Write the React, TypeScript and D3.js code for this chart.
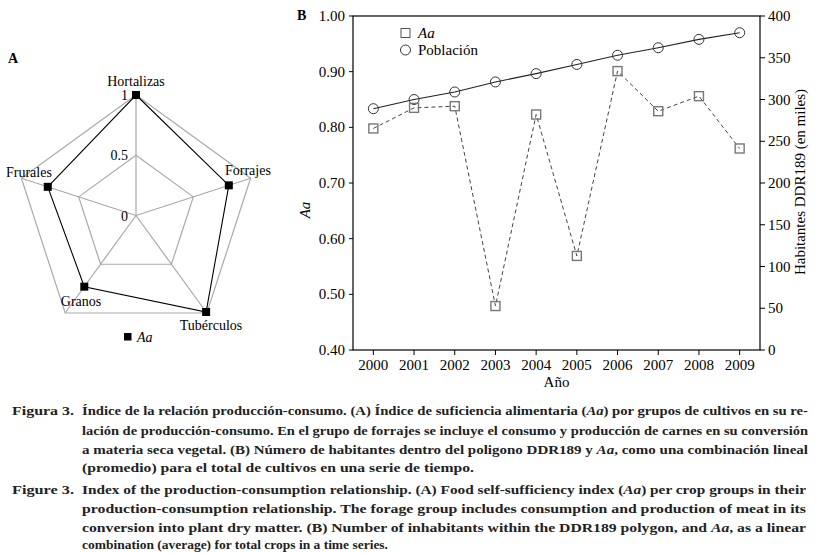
import React from "react";
import * as d3 from "d3";

const radarCategories = ["Hortalizas", "Forrajes", "Tubérculos", "Granos", "Frurales"];
const radarValues = [1.0, 0.81, 0.99, 0.73, 0.77];
const radarLevels = [0, 0.5, 1];
const radarLevelLabels = ["0", "0.5", "1"];

const years = [2000, 2001, 2002, 2003, 2004, 2005, 2006, 2007, 2008, 2009];
const aaValues = [0.798, 0.835, 0.838, 0.479, 0.823, 0.569, 0.901, 0.829, 0.856, 0.762];
const populationValues = [289, 300, 309, 321, 331, 342, 353, 362, 372, 380];
const leftTicks = [0.4, 0.5, 0.6, 0.7, 0.8, 0.9, 1.0];
const rightTicks = [0, 50, 100, 150, 200, 250, 300, 350, 400];

const FONT = '"Liberation Serif", "Times New Roman", Times, Tinos, serif';
const F = { fontFamily: FONT } as React.CSSProperties;

function Radar() {
  const cx = 136, cy = 215.5, R = 120.5;
  const r = d3.scaleLinear().domain([0, 1]).range([0, R]);
  const n = radarCategories.length;
  const ang = (i: number) => (i * 2 * Math.PI) / n;
  const pt = (i: number, v: number): [number, number] => [
    cx + r(v) * Math.sin(ang(i)),
    cy - r(v) * Math.cos(ang(i)),
  ];
  const closed = d3.line().curve(d3.curveLinearClosed);
  const labelPos: { [k: string]: [number, number, string] } = {
    Hortalizas: [136, 86, "middle"],
    Forrajes: [225, 175, "start"],
    "Tubérculos": [211, 330, "middle"],
    Granos: [81, 306, "middle"],
    Frurales: [6, 177, "start"],
  };
  return (
    <g style={F}>
      <text x={8} y={63} fontWeight="bold" fontSize={14}>A</text>
      {radarLevels.filter((l) => l > 0).map((l) => (
        <path key={l} d={closed(radarCategories.map((_, i) => pt(i, l))) || ""} fill="none" stroke="#aaa" strokeWidth={1.2} />
      ))}
      {radarCategories.map((_, i) => {
        const [x, y] = pt(i, 1);
        return <line key={i} x1={cx} y1={cy} x2={x} y2={y} stroke="#aaa" strokeWidth={1.2} />;
      })}
      <path d={closed(radarValues.map((v, i) => pt(i, v))) || ""} fill="none" stroke="#000" strokeWidth={1.1} />
      {radarValues.map((v, i) => {
        const [x, y] = pt(i, v);
        return <rect key={i} x={x - 4} y={y - 4} width={8} height={8} fill="#000" />;
      })}
      {radarLevels.map((l, i) => (
        <text key={l} x={cx - 8} y={cy - r(l) + 5} textAnchor="end" fontSize={14}>{radarLevelLabels[i]}</text>
      ))}
      {radarCategories.map((c) => {
        const [x, y, a] = labelPos[c];
        return <text key={c} x={x} y={y} textAnchor={a as any} fontSize={14}>{c}</text>;
      })}
      <rect x={124} y={333} width={7.5} height={7.5} fill="#000" />
      <text x={137} y={342} fontSize={14} fontStyle="italic">Aa</text>
    </g>
  );
}

function LineChart() {
  const left = 353, right = 760, top = 16, bottom = 350;
  const x = d3.scaleLinear().domain([1999.5, 2009.5]).range([left, right]);
  const yL = d3.scaleLinear().domain([0.4, 1.0]).range([bottom, top]);
  const yR = d3.scaleLinear().domain([0, 400]).range([bottom, top]);
  const aaLine = d3.line<number>().x((_, i) => x(years[i])).y((d) => yL(d));
  const popLine = d3.line<number>().x((_, i) => x(years[i])).y((d) => yR(d));
  return (
    <g style={F}>
      <text x={297} y={20} fontWeight="bold" fontSize={14}>B</text>
      <rect x={left} y={top} width={right - left} height={bottom - top} fill="none" stroke="#000" strokeWidth={1.2} />
      {leftTicks.map((t) => (
        <g key={t}>
          <line x1={left - 4} x2={left} y1={yL(t)} y2={yL(t)} stroke="#000" />
          <text x={left - 8} y={yL(t) + 5} textAnchor="end" fontSize={15}>{t.toFixed(2)}</text>
        </g>
      ))}
      {rightTicks.map((t) => (
        <g key={t}>
          <line x1={right} x2={right + 5} y1={yR(t)} y2={yR(t)} stroke="#000" />
          <text x={right + 8} y={yR(t) + 5} textAnchor="start" fontSize={15}>{t}</text>
        </g>
      ))}
      {years.map((yv) => (
        <g key={yv}>
          <line x1={x(yv)} x2={x(yv)} y1={bottom} y2={bottom + 5} stroke="#000" />
          <text x={x(yv)} y={370} textAnchor="middle" fontSize={15}>{yv}</text>
        </g>
      ))}
      <text x={(left + right) / 2} y={387} textAnchor="middle" fontSize={15}>Año</text>
      <text transform={`translate(310,210) rotate(-90)`} textAnchor="middle" fontSize={15} fontStyle="italic">Aa</text>
      <text transform={`translate(805,182) rotate(-90)`} textAnchor="middle" fontSize={15}>Habitantes DDR189 (en miles)</text>

      <path d={popLine(populationValues) || ""} fill="none" stroke="#222" strokeWidth={1.1} />
      <path d={aaLine(aaValues) || ""} fill="none" stroke="#444" strokeWidth={1} strokeDasharray="4,3" />
      {populationValues.map((v, i) => (
        <circle key={i} cx={x(years[i])} cy={yR(v)} r={5} fill="none" stroke="#333" strokeWidth={1} />
      ))}
      {aaValues.map((v, i) => (
        <rect key={i} x={x(years[i]) - 4.5} y={yL(v) - 4.5} width={9} height={9} fill="none" stroke="#777" strokeWidth={1.4} />
      ))}

      <rect x={401} y={28.5} width={9} height={9} fill="none" stroke="#555" strokeWidth={1} />
      <text x={418} y={38} fontSize={15} fontStyle="italic">Aa</text>
      <circle cx={405.5} cy={50} r={5} fill="none" stroke="#333" strokeWidth={1} />
      <text x={418} y={55} fontSize={15}>Población</text>
    </g>
  );
}

type Seg = { t: string; i?: boolean };
const captionEs: { y: number; segs: Seg[]; w?: number }[] = [
  { y: 415, w: 726, segs: [{ t: "Índice de la relación producción-consumo. (A) Índice de suficiencia alimentaria (" }, { t: "Aa", i: true }, { t: ") por grupos de cultivos en su re-" }] },
  { y: 435, w: 726, segs: [{ t: "lación de producción-consumo. En el grupo de forrajes se incluye el consumo y producción de carnes en su conversión" }] },
  { y: 454, w: 726, segs: [{ t: "a materia seca vegetal. (B) Número de habitantes dentro del poligono DDR189 y " }, { t: "Aa", i: true }, { t: ", como una combinación lineal" }] },
  { y: 472, w: 392, segs: [{ t: "(promedio) para el total de cultivos en una serie de tiempo." }] },
];
const captionEn: { y: number; segs: Seg[]; w?: number }[] = [
  { y: 494, w: 724, segs: [{ t: "Index of the production-consumption relationship. (A) Food self-sufficiency index (" }, { t: "Aa", i: true }, { t: ") per crop groups in their" }] },
  { y: 513, w: 724, segs: [{ t: "production-consumption relationship. The forage group includes consumption and production of meat in its" }] },
  { y: 532, w: 724, segs: [{ t: "conversion into plant dry matter. (B) Number of inhabitants within the DDR189 polygon, and " }, { t: "Aa", i: true }, { t: ", as a linear" }] },
  { y: 549, w: 306, segs: [{ t: "combination (average) for total crops in a time series." }] },
];

function Caption() {
  const line = (l: { y: number; segs: Seg[]; w?: number }, k: string) => (
    <text key={k} x={82} y={l.y} textLength={l.w} lengthAdjust="spacingAndGlyphs" fontWeight="bold" fontSize={13.5} fill="#222">
      {l.segs.map((s, j) => (
        <tspan key={j} fontStyle={s.i ? "italic" : "normal"}>{s.t}</tspan>
      ))}
    </text>
  );
  return (
    <g style={F}>
      <text x={12} y={415} textLength={62} lengthAdjust="spacingAndGlyphs" fontWeight="bold" fontSize={13.5} fill="#222">Figura 3.</text>
      {captionEs.map((l, i) => line(l, "es" + i))}
      <text x={12} y={494} textLength={62} lengthAdjust="spacingAndGlyphs" fontWeight="bold" fontSize={13.5} fill="#222">Figure 3.</text>
      {captionEn.map((l, i) => line(l, "en" + i))}
    </g>
  );
}

export default function App() {
  return (
    <svg width={820} height={553} style={{ position: "absolute", left: 0, top: 0, background: "#fff" }}>
      <rect width={820} height={553} fill="#fff" />
      <Radar />
      <LineChart />
      <Caption />
    </svg>
  );
}
